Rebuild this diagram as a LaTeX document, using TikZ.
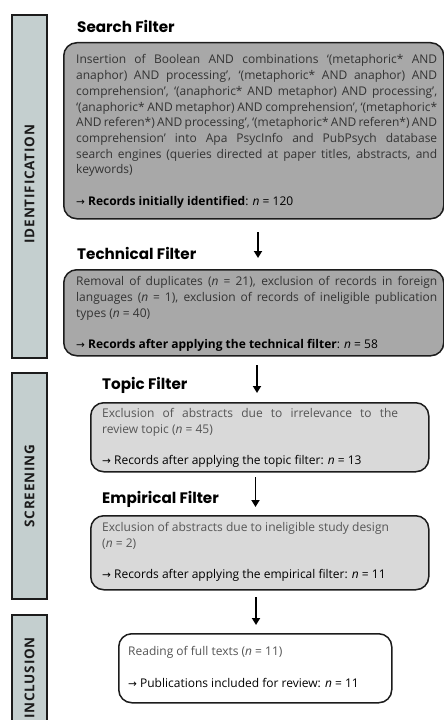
\documentclass[tikz,border=0pt]{standalone}
\usepackage{fontspec}
\setmainfont{Open Sans}
\newfontfamily\titlefont{Poppins}
\newfontfamily\labfont{Open Sans}[LetterSpace=6]
\newfontfamily\arrfont{DejaVu Sans}
\usetikzlibrary{arrows.meta}
\definecolor{barfill}{HTML}{C4CFCF}
\definecolor{darkfill}{HTML}{A8A8A8}
\definecolor{lightfill}{HTML}{D9D9D9}
\definecolor{edge}{HTML}{1C1C1C}
\definecolor{bodytext}{HTML}{333333}
\definecolor{bodytextl}{HTML}{555555}
\newcommand{\rarr}{{\arrfont\fontsize{10.5bp}{10.5bp}\selectfont →} }
\newcommand{\bodyfont}{\fontsize{12bp}{15.7bp}\selectfont}
\tikzset{
  barbox/.style={draw=edge, line width=1.4bp, fill=barfill},
  filterbox/.style={draw=edge, line width=1.5bp, rounded corners=13bp, anchor=north west, inner sep=0pt},
  bodytxt/.style={anchor=base west, inner sep=0pt, text=bodytext},
  ftitle/.style={anchor=base west, inner sep=0pt, font=\titlefont\bfseries\fontsize{15.2bp}{15.2bp}\selectfont, text=black},
  sidelab/.style={rotate=90, inner sep=0pt, font=\labfont\bfseries\fontsize{13.5bp}{13.5bp}\selectfont, text=edge},
  flowarrow/.style={line width=1.9bp, -{Triangle[length=7bp,width=8bp]}, draw=black}
}
\begin{document}
\begin{tikzpicture}[x=1bp,y=-1bp]
\useasboundingbox (0,0) rectangle (444,720);
\fill[white] (0,0) rectangle (444,720);
% side bars
\draw[barbox] (12,15) rectangle (47,358);
\draw[barbox] (12,373) rectangle (47,599);
\draw[barbox] (12,615) rectangle (47,730);
\node[sidelab] (idl) at (29.5,184) {IDENTIFICATION};
\node[sidelab] (scl) at (29.5,486) {SCREENING};
\node[sidelab] (inl) at (29.5,678) {INCLUSION};
% boxes
\node[filterbox, fill=darkfill, minimum width=380bp, minimum height=176bp] (search) at (63,42) {};
\node[filterbox, fill=darkfill, minimum width=380bp, minimum height=86bp] (tech) at (63,269) {};
\node[filterbox, fill=lightfill, minimum width=338bp, minimum height=69bp] (topic) at (90,402) {};
\node[filterbox, fill=lightfill, minimum width=338bp, minimum height=74bp] (emp) at (90,515) {};
\node[filterbox, fill=white, minimum width=273bp, minimum height=69bp] (incl) at (118,633) {};
% titles
\node[ftitle] (searcht) at (77,32.3) {Search Filter};
\node[ftitle] (techt) at (77,259.3) {Technical Filter};
\node[ftitle] (topict) at (102,389.3) {Topic Filter};
\node[ftitle] (empt) at (102,503.3) {Empirical Filter};
% texts
\node[bodytxt] (searchx) at (76,64) {\parbox[t]{361bp}{\bodyfont\hyphenpenalty=10000
Insertion of Boolean AND combinations ‘(metaphoric* AND\linebreak
anaphor) AND processing’, ‘(metaphoric* AND anaphor) AND\linebreak
comprehension’, ‘(anaphoric* AND metaphor) AND processing’,\linebreak
‘(anaphoric* AND metaphor) AND comprehension’, ‘(metaphoric*\linebreak
AND referen*) AND processing’, ‘(metaphoric* AND referen*) AND\linebreak
comprehension’ into Apa PsycInfo and PubPsych database\linebreak
search engines (queries directed at paper titles, abstracts, and\linebreak
keywords)\par\vskip15.7bp
{\color{black}\rarr\textbf{Records initially identified}: \textit{n} = 120}}};
\node[bodytxt] (techx) at (76,285.7) {\parbox[t]{361bp}{\bodyfont\hyphenpenalty=10000
Removal of duplicates (\textit{n} = 21), exclusion of records in foreign\linebreak
languages (\textit{n} = 1), exclusion of records of ineligible publication\linebreak
types (\textit{n} = 40)\par\vskip15.7bp
{\color{black}\rarr\textbf{Records after applying the technical filter}: \textit{n} = 58}}};
\node[bodytxt, text=bodytextl] (topicx) at (102,417.3) {\parbox[t]{296bp}{\bodyfont\hyphenpenalty=10000
Exclusion of abstracts due to irrelevance to the\linebreak
review topic (\textit{n} = 45)\par\vskip15.7bp
{\color{black}\rarr Records after applying the topic filter: \textit{n} = 13}}};
\node[bodytxt, text=bodytextl] (empx) at (102,531.7) {\parbox[t]{296bp}{\bodyfont\hyphenpenalty=10000
Exclusion of abstracts due to ineligible study design\newline
(\textit{n} = 2)\par\vskip15.7bp
{\color{black}\rarr Records after applying the empirical filter: \textit{n} = 11}}};
\node[bodytxt, text=bodytextl] (inclx) at (128,655.7) {\parbox[t]{255bp}{\bodyfont\raggedright
Reading of full texts (\textit{n} = 11)\par\vskip15.7bp
{\color{black}\rarr Publications included for review: \textit{n} = 11}}};
% arrows
\coordinate (a1s) at (258,232); \coordinate (a1e) at (258,258);
\coordinate (a2s) at (257,365); \coordinate (a2e) at (257,393);
\coordinate (a3s) at (255.5,477); \coordinate (a3e) at (255.5,507);
\coordinate (a4s) at (256,597); \coordinate (a4e) at (256,625);
\draw[flowarrow] (a1s) -- (a1e);
\draw[flowarrow] (a2s) -- (a2e);
\draw[flowarrow] (a3s) -- (a3e);
\draw[flowarrow] (a4s) -- (a4e);
\end{tikzpicture}
\end{document}
